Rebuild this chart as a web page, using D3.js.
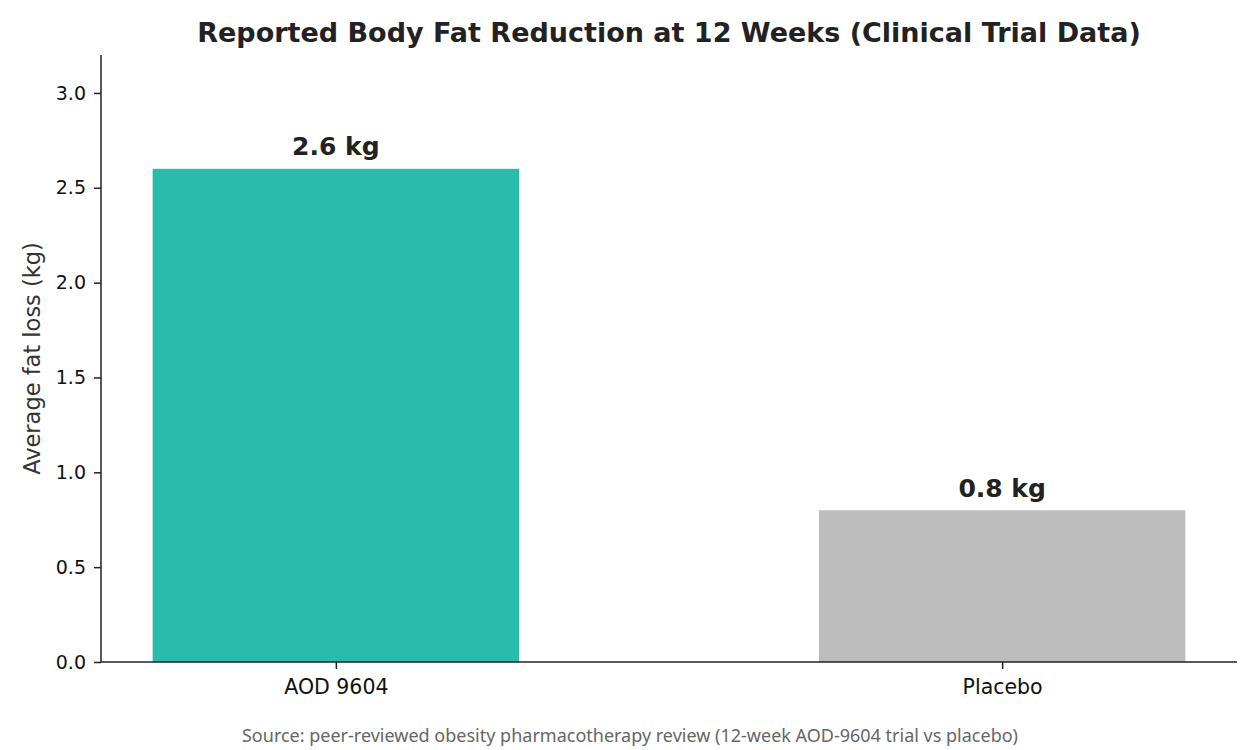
<!DOCTYPE html>
<html>
<head>
<meta charset="utf-8">
<script src="https://cdn.jsdelivr.net/npm/d3@7"></script>
<style>
  body { margin: 0; background: #fff; }
  text { font-family: "DejaVu Sans", sans-serif; }
</style>
</head>
<body>
<div id="chart"></div>
<script>
// chart data
const categories = ["AOD 9604", "Placebo"];
const fatLoss = [2.6, 0.8];
const barColors = ["#2bbbad", "#bdbdbd"];
const yTicks = [0, 0.5, 1.0, 1.5, 2.0, 2.5, 3.0];

const totalWidth = 1260, totalHeight = 750;
const margin = { top: 55, right: 23, bottom: 88, left: 101 };
const width = totalWidth - margin.left - margin.right;
const height = totalHeight - margin.top - margin.bottom;

const svg = d3.select("#chart").append("svg")
  .attr("width", totalWidth)
  .attr("height", totalHeight);

const g = svg.append("g")
  .attr("transform", `translate(${margin.left},${margin.top})`);

// x positions are category indices, like a matplotlib bar chart
const barWidth = 0.55;
const x = d3.scaleLinear()
  .domain([-0.3525, categories.length - 1 + 0.3525])
  .range([0, width]);

const y = d3.scaleLinear()
  .domain([0, 3.2])
  .range([height, 0]);

// bars
g.selectAll(".bar")
  .data(fatLoss)
  .enter().append("rect")
    .attr("class", "bar")
    .attr("x", (d, i) => x(i - barWidth / 2))
    .attr("width", (d, i) => x(i + barWidth / 2) - x(i - barWidth / 2))
    .attr("y", d => y(d))
    .attr("height", d => height - y(d))
    .style("fill", (d, i) => barColors[i]);

// value labels
g.selectAll(".value")
  .data(fatLoss)
  .enter().append("text")
    .attr("class", "value")
    .attr("x", (d, i) => x(i))
    .attr("y", d => y(d))
    .attr("dy", "-0.55em")
    .attr("text-anchor", "middle")
    .style("font-size", "25px")
    .style("font-weight", "bold")
    .style("fill", "#222")
    .text(d => `${d} kg`);

// axes
const xAxis = d3.axisBottom(x)
  .tickValues(d3.range(categories.length))
  .tickFormat(i => categories[i])
  .tickSize(7)
  .tickPadding(10);

const yAxis = d3.axisLeft(y)
  .tickValues(yTicks)
  .tickFormat(d3.format(".1f"))
  .tickSize(7)
  .tickPadding(8);

const xg = g.append("g")
  .attr("class", "x axis")
  .attr("transform", `translate(0,${height})`)
  .call(xAxis);

const yg = g.append("g")
  .attr("class", "y axis")
  .call(yAxis);

[xg, yg].forEach(a => {
  a.select(".domain").attr("stroke", "#222").attr("stroke-width", 1.5);
  a.selectAll(".tick line").attr("stroke", "#222").attr("stroke-width", 1.5);
  a.selectAll(".tick text")
    .style("fill", "#111")
    .style("font-family", "'DejaVu Sans', sans-serif");
});
xg.selectAll(".tick text").style("font-size", "20.5px");
yg.selectAll(".tick text").style("font-size", "19px");
// straight domain lines (no end caps)
xg.select(".domain").attr("d", `M0,0H${width}`);
yg.select(".domain").attr("d", `M0,0V${height}`);

// y label
g.append("text")
  .attr("transform", "rotate(-90)")
  .attr("x", -height / 2)
  .attr("y", -61)
  .attr("text-anchor", "middle")
  .style("font-size", "22.5px")
  .style("fill", "#333")
  .text("Average fat loss (kg)");

// title
svg.append("text")
  .attr("x", margin.left + width / 2)
  .attr("y", 42)
  .attr("text-anchor", "middle")
  .style("font-size", "27px")
  .style("font-weight", "bold")
  .style("fill", "#222")
  .text("Reported Body Fat Reduction at 12 Weeks (Clinical Trial Data)");

// source note
svg.append("text")
  .attr("x", totalWidth / 2)
  .attr("y", 742)
  .attr("text-anchor", "middle")
  .style("font-family", "'Noto Sans', sans-serif")
  .style("font-size", "18px")
  .style("fill", "#666")
  .text("Source: peer-reviewed obesity pharmacotherapy review (12-week AOD-9604 trial vs placebo)");
</script>
</body>
</html>
